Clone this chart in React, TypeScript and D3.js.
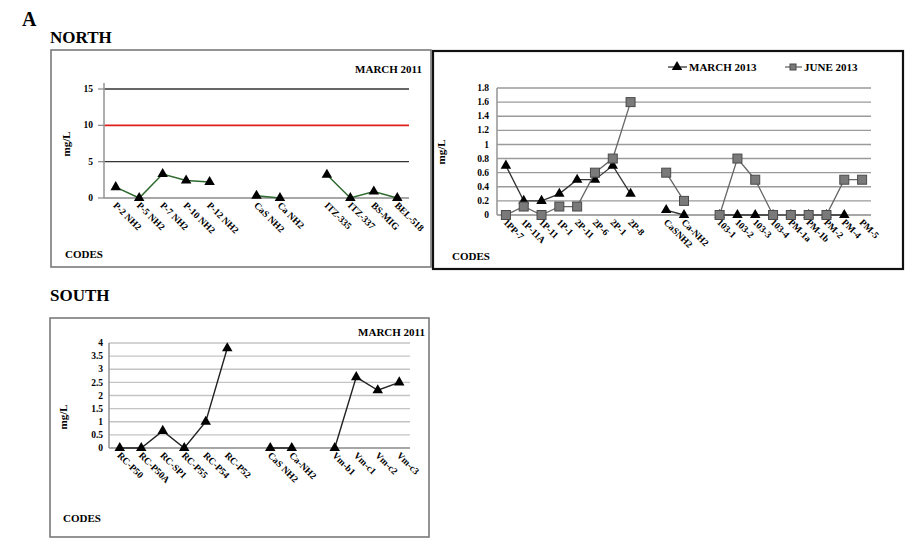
import React from "react";
import * as d3 from "d3";

// ---------- DATA ----------
const northCodes = ["P-2 NH2", "P-5 NH2", "P-7 NH2", "P-10 NH2", "P-12 NH2", "", "CaS NH2", "Ca NH2", "", "ITZ-335", "ITZ-337", "BS-MIG", "BEL-518"];
const northMarch2011: (number | null)[] = [1.5, 0, 3.3, 2.4, 2.2, null, 0.3, 0, null, 3.2, 0, 0.9, 0];
const northTicks = [0, 5, 10, 15];
const northGrid = [5, 15];
const limitValue = 10;

const north2013Codes = ["1PP-7", "1P-11A", "1P-11", "1P-1", "2P-11", "2P-6", "2P-1", "2P-8", "", "CaSNH2", "Ca-NH2", "", "103-1", "103-2", "103-3", "103-4", "PM-1a", "PM-1b", "PM-2", "PM-4", "PM-5"];
const march2013: (number | null)[] = [0.7, 0.2, 0.2, 0.3, 0.5, 0.5, 0.7, 0.3, null, 0.07, 0, null, 0, 0, 0, 0, 0, 0, 0, 0, null];
const june2013: (number | null)[] = [0, 0.12, 0, 0.12, 0.12, 0.6, 0.8, 1.6, null, 0.6, 0.2, null, 0, 0.8, 0.5, 0, 0, 0, 0, 0.5, 0.5];
const north2013Ticks = [0, 0.2, 0.4, 0.6, 0.8, 1, 1.2, 1.4, 1.6, 1.8];

const southCodes = ["RC-P50", "RC-P50A", "RC-SP1", "RC-P55", "RC-P54", "RC-P52", "", "CaS NH2", "Ca-NH2", "", "Vm-b1", "Vm-c1", "Vm-c2", "Vm-c3"];
const southMarch2011: (number | null)[] = [0, 0, 0.65, 0, 1, 3.8, null, 0, 0, null, 0, 2.7, 2.2, 2.5];
const southTicks = [0, 0.5, 1, 1.5, 2, 2.5, 3, 3.5, 4];

// ---------- DRAWING ----------
const FONT = "'Liberation Serif', 'Times New Roman', serif";
const fmt = (v: number) => String(+v.toFixed(1));
const triPath = d3.symbol().type(d3.symbolTriangle).size(48)() as string;

type Series = { values: (number | null)[]; marker: "tri" | "sq"; line: string; lineWidth: number };

function Marker({ kind, x, y }: { kind: "tri" | "sq"; x: number; y: number }) {
  if (kind === "tri") return <path d={triPath} transform={`translate(${x},${y})`} fill="#000" />;
  return <rect x={x - 4.5} y={y - 4.5} width={9} height={9} fill="#7a7a7a" stroke="#4a4a4a" strokeWidth={1} />;
}

function Panel(props: {
  codes: string[];
  series: Series[];
  domainMax: number;
  ticks: number[];
  grid: number[];
  gridColor: string;
  x0: number; x1: number; yTop: number; yBottom: number; axisTop: number;
  labelRight: number; tickMarks: boolean;
  mgx: number; mgy: number; codesX: number; codesY: number;
  limit?: number;
}) {
  const { codes, series, domainMax, ticks, grid, gridColor, x0, x1, yTop, yBottom } = props;
  const x = d3.scaleBand<number>().domain(codes.map((_, i) => i)).range([x0, x1]);
  const y = d3.scaleLinear().domain([0, domainMax]).range([yBottom, yTop]);
  const cx = (i: number) => (x(i) as number) + x.bandwidth() / 2;
  return (
    <g>
      {grid.map((g) => (
        <line key={"g" + g} x1={x0} x2={x1} y1={y(g)} y2={y(g)} stroke={gridColor} strokeWidth={1.4} />
      ))}
      {props.limit !== undefined && (
        <line x1={x0} x2={x1} y1={y(props.limit)} y2={y(props.limit)} stroke="#e0201c" strokeWidth={1.6} />
      )}
      <line x1={x0} x2={x1} y1={y(0)} y2={y(0)} stroke="#8a8a8a" strokeWidth={1.6} />
      <line x1={x0} x2={x0} y1={y(0)} y2={props.axisTop} stroke="#9a9a9a" strokeWidth={1.6} />
      {ticks.map((t) => (
        <g key={"t" + t}>
          {props.tickMarks && <line x1={x0 - 6} x2={x0} y1={y(t)} y2={y(t)} stroke="#888" strokeWidth={1.2} />}
          <text x={props.labelRight} y={y(t)} dy="0.33em" textAnchor="end" fontSize={9.5} fontWeight="bold" fontFamily={FONT}>
            {fmt(t)}
          </text>
        </g>
      ))}
      {codes.map((c, i) =>
        c ? (
          <text key={"c" + i} transform={`translate(${cx(i) - 3},${y(0) + 8}) rotate(45)`} fontSize={9.5} fontWeight="bold" fontFamily={FONT}>
            {c}
          </text>
        ) : null
      )}
      {series.map((s, si) => {
        const line = d3
          .line<number | null>()
          .defined((d) => d !== null)
          .x((_, i) => cx(i))
          .y((d) => y(d as number));
        return (
          <g key={"s" + si}>
            <path d={line(s.values) as string} fill="none" stroke={s.line} strokeWidth={s.lineWidth} />
            {s.values.map((v, i) => (v === null ? null : <Marker key={i} kind={s.marker} x={cx(i)} y={y(v)} />))}
          </g>
        );
      })}
      <text transform={`translate(${props.mgx},${props.mgy}) rotate(-90)`} textAnchor="middle" fontSize={11} fontWeight="bold" fontFamily={FONT}>
        mg/L
      </text>
      <text x={props.codesX} y={props.codesY} fontSize={11} fontWeight="bold" fontFamily={FONT}>
        CODES
      </text>
    </g>
  );
}

export default function App() {
  return (
    <div style={{ position: "absolute", left: 0, top: 0 }}>
      <svg width={921} height={551} style={{ display: "block", background: "#fff" }}>
        <text x={22} y={26} fontSize={20} fontWeight="bold" fontFamily={FONT}>A</text>
        <text x={50} y={43} fontSize={17} fontWeight="bold" fontFamily={FONT}>NORTH</text>
        <text x={50} y={301} fontSize={17} fontWeight="bold" fontFamily={FONT}>SOUTH</text>

        {/* North, March 2011 */}
        <rect x={51} y={50} width={380} height={217} fill="none" stroke="#7a7a7a" strokeWidth={1.6} />
        <text x={422} y={73} textAnchor="end" fontSize={11} fontWeight="bold" fontFamily={FONT}>MARCH 2011</text>
        <Panel
          codes={northCodes}
          series={[{ values: northMarch2011, marker: "tri", line: "#2f6a2f", lineWidth: 1.5 }]}
          domainMax={15}
          ticks={northTicks}
          grid={northGrid}
          gridColor="#333"
          limit={limitValue}
          x0={104} x1={409} yTop={89} yBottom={198} axisTop={83}
          labelRight={93} tickMarks={true}
          mgx={70} mgy={144} codesX={65} codesY={258}
        />

        {/* North, 2013 */}
        <rect x={433} y={51} width={470} height={218} fill="none" stroke="#111" strokeWidth={2.2} />
        <line x1={668} x2={687} y1={67} y2={67} stroke="#333" strokeWidth={1.3} />
        <Marker kind="tri" x={677} y={67} />
        <text x={689} y={71} fontSize={11} fontWeight="bold" fontFamily={FONT}>MARCH 2013</text>
        <line x1={785} x2={802} y1={67} y2={67} stroke="#666" strokeWidth={1.3} />
        <rect x={790} y={64} width={6} height={6} fill="#7a7a7a" stroke="#4a4a4a" />
        <text x={804} y={71} fontSize={11} fontWeight="bold" fontFamily={FONT}>JUNE 2013</text>
        <Panel
          codes={north2013Codes}
          series={[
            { values: march2013, marker: "tri", line: "#333", lineWidth: 1.3 },
            { values: june2013, marker: "sq", line: "#666", lineWidth: 1.3 },
          ]}
          domainMax={1.8}
          ticks={north2013Ticks}
          grid={north2013Ticks.slice(1)}
          gridColor="#9a9a9a"
          x0={497} x1={871} yTop={88} yBottom={215} axisTop={88}
          labelRight={489} tickMarks={false}
          mgx={445} mgy={152} codesX={452} codesY={260}
        />

        {/* South, March 2011 */}
        <rect x={50} y={318} width={379} height={219} fill="none" stroke="#7a7a7a" strokeWidth={1.6} />
        <text x={425} y={336} textAnchor="end" fontSize={11} fontWeight="bold" fontFamily={FONT}>MARCH 2011</text>
        <Panel
          codes={southCodes}
          series={[{ values: southMarch2011, marker: "tri", line: "#222", lineWidth: 1.4 }]}
          domainMax={4}
          ticks={southTicks}
          grid={southTicks.slice(1)}
          gridColor="#c4c4c4"
          x0={109} x1={410} yTop={343} yBottom={448} axisTop={343}
          labelRight={103} tickMarks={false}
          mgx={67} mgy={417} codesX={63} codesY={522}
        />
      </svg>
    </div>
  );
}
